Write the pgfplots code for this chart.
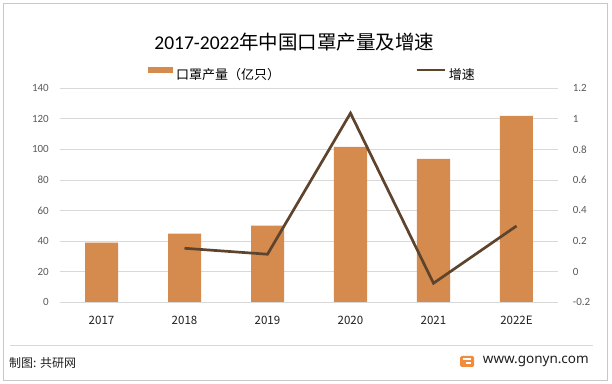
\documentclass[border=0pt]{standalone}
\usepackage{fontspec}
\setmainfont{Carlito}
\newfontfamily\cjk{Noto Sans CJK SC}
\newfontfamily\notosans{Noto Sans}
\usepackage{pgfplots}
\pgfplotsset{compat=1.18}
\definecolor{barc}{RGB}{212,139,77}
\definecolor{linec}{RGB}{94,68,45}
\definecolor{tickc}{RGB}{89,89,89}
\definecolor{catc}{RGB}{30,30,30}
\definecolor{gridc}{RGB}{217,217,217}
\definecolor{framec}{RGB}{200,200,200}
\definecolor{logoc}{RGB}{240,140,60}
\begin{document}
\begin{tikzpicture}
\path[use as bounding box] (0,0) rectangle (612bp,384bp);
\draw[framec, line width=0.8bp] (3.3bp,3.3bp) rectangle (607.7bp,380.7bp);
\draw[gridc, line width=0.6bp] (10bp,39bp) -- (592.7bp,39bp);
\node[anchor=west, inner sep=0pt, text=catc] at (9bp,21bp) {\cjk\fontsize{12bp}{14bp}\selectfont 制图: 共研网};
\fill[logoc, rounded corners=1.5bp] (460bp,17bp) rectangle (474bp,28bp);
\fill[white] (463bp,24bp) rectangle (471bp,25.5bp);
\fill[white] (466bp,19.5bp) rectangle (471bp,22bp);
\node[anchor=west, inner sep=0pt, text=catc] at (482.7bp,22.3bp) {\notosans\fontsize{13.5bp}{15bp}\selectfont www.gonyn.com};
\node[inner sep=0pt, text=black] at (294.4bp,342bp) {\fontsize{19.5bp}{22bp}\selectfont 2017-2022{\cjk 年中国口罩产量及增速}};
\begin{axis}[
  at={(60bp,82bp)}, anchor=south west,
  width=498bp, height=213.7bp, scale only axis,
  xmin=-0.5, xmax=5.5, ymin=0, ymax=140,
  ybar, bar width=33bp,
  xtick={0,1,2,3,4,5},
  xticklabels={2017,2018,2019,2020,2021,2022E},
  ytick={0,20,40,60,80,100,120,140},
  ymajorgrids, grid style={draw=gridc, line width=0.75bp},
  axis line style={draw=none},
  major tick length=0pt,
  axis y line*=left,
  /pgf/number format/assume math mode=true,
  yticklabel style={font=\fontsize{11bp}{13bp}\selectfont, text=tickc, inner sep=0pt, anchor=east, xshift=-11bp},
  xticklabel style={font=\cjk\fontsize{11.5bp}{13bp}\selectfont, text=catc, inner sep=0pt, anchor=north, yshift=-13.9bp},
  legend columns=2,
  legend style={at={(0.1767,1.067)}, anchor=west, draw=none, fill=none, inner sep=0pt,
    font=\cjk\fontsize{13bp}{15bp}\selectfont, text=black,
    nodes={inner sep=0pt},
    /tikz/every odd column/.append style={column sep=3bp},
    /tikz/every even column/.append style={column sep=135bp}},
]
\addplot[fill=barc, draw=none,
  legend image code/.code={\fill[barc] (0bp,1.5bp) rectangle (25bp,7bp);}]
  coordinates {(0,38.9) (1,44.8) (2,50.0) (3,101.6) (4,93.7) (5,121.9)};
\addlegendentry{口罩产量（亿只）}
\addlegendimage{legend image code/.code={\draw[linec, line width=2.7bp] (0bp,4.25bp) -- (28bp,4.25bp);}}
\addlegendentry{增速}
\end{axis}
\begin{axis}[
  at={(60bp,82bp)}, anchor=south west,
  width=498bp, height=213.7bp, scale only axis,
  xmin=-0.5, xmax=5.5, ymin=-0.2, ymax=1.2,
  axis y line*=right, axis x line=none,
  axis line style={draw=none},
  major tick length=0pt,
  ytick={-0.2,0,0.2,0.4,0.6,0.8,1,1.2},
  yticklabels={-0.2,0,0.2,0.4,0.6,0.8,1,1.2},
  yticklabel style={font=\fontsize{11bp}{13bp}\selectfont, text=tickc, inner sep=0pt, anchor=west, xshift=14.7bp},
]
\addplot[linec, line width=2.7bp, mark=none]
  coordinates {(1,0.152) (2,0.113) (3,1.037) (4,-0.077) (5,0.298)};
\end{axis}
\end{tikzpicture}
\end{document}
